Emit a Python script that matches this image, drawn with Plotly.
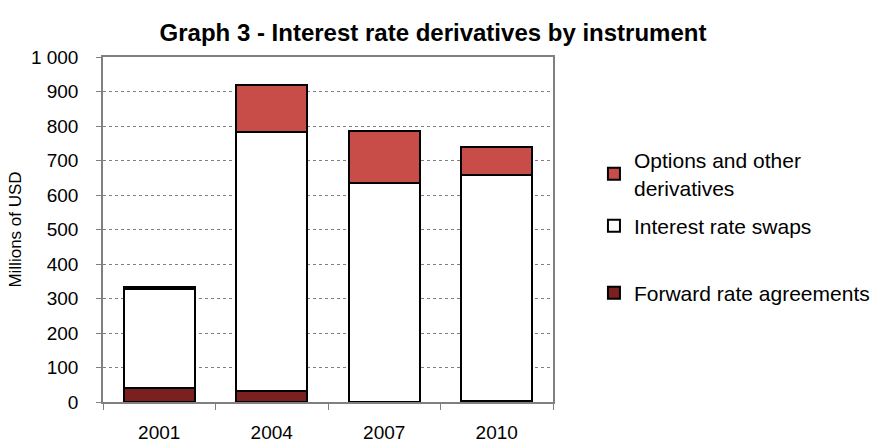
import plotly.graph_objects as go

years = ["2001", "2004", "2007", "2010"]
fra = [42, 31, 0, 4]
swaps = [286, 753, 635, 655]
options = [4, 136, 151, 80]

series_names = ["Forward rate agreements", "Interest rate swaps", "Options and other<br>derivatives"]
y_tickvals = [0, 100, 200, 300, 400, 500, 600, 700, 800, 900, 1000]
y_ticktext = ["0", "100", "200", "300", "400", "500", "600", "700", "800", "900", "1 000"]

FONT = "Liberation Sans, Arial, sans-serif"
H = 444
PT, PB = 57, 402


def ypaper(px):
    return (PB - px) / (PB - PT)


fig = go.Figure()
fig.add_trace(go.Bar(x=years, y=fra, name=series_names[0], legend="legend3",
                     marker=dict(color="#7a2020", line=dict(color="#000", width=2))))
fig.add_trace(go.Bar(x=years, y=swaps, name=series_names[1], legend="legend2",
                     marker=dict(color="#ffffff", line=dict(color="#000", width=2))))
fig.add_trace(go.Bar(x=years, y=options, name=series_names[2], legend="legend",
                     marker=dict(color="#c84c48", line=dict(color="#000", width=2))))

leg_common = dict(x=1.091, xanchor="left", yanchor="middle", itemwidth=30,
                  bgcolor="rgba(0,0,0,0)",
                  font=dict(size=21, family=FONT, color="#000"))

fig.update_layout(
    width=880, height=444,
    margin=dict(l=103, r=327, t=PT, b=H - PB, autoexpand=False),
    barmode="stack", bargap=0.37,
    plot_bgcolor="#ffffff", paper_bgcolor="#ffffff",
    font=dict(family=FONT, color="#000"),
    title=dict(text="<b>Graph 3 - Interest rate derivatives by instrument</b>",
               x=433/880, xanchor="center", y=1 - 33/444, yanchor="middle",
               font=dict(size=24, family=FONT, color="#000")),
    legend=dict(y=ypaper(174), **leg_common),
    legend2=dict(y=ypaper(226), **leg_common),
    legend3=dict(y=ypaper(293), **leg_common),
    showlegend=True,
)
fig.update_xaxes(
    type="category", tickson="boundaries", ticks="outside", ticklen=6,
    tickcolor="#808080", showline=True, linecolor="#808080", linewidth=1.5,
    mirror=True, showgrid=False, ticklabelstandoff=12, automargin=False,
    tickfont=dict(size=19, family=FONT, color="#000"),
)
fig.update_yaxes(
    range=[0, 1000], tickvals=y_tickvals, ticktext=y_ticktext,
    ticks="outside", ticklen=5, tickcolor="#808080",
    showline=True, linecolor="#808080", linewidth=1.5, mirror=True,
    showgrid=True, gridcolor="#808080", griddash="dot", gridwidth=1,
    zeroline=False, ticklabelstandoff=14, automargin=False,
    tickfont=dict(size=19, family=FONT, color="#000"),
    title=dict(text="Millions of USD", font=dict(size=17, family=FONT, color="#000"), standoff=5),
)

fig.write_html("out.html")
